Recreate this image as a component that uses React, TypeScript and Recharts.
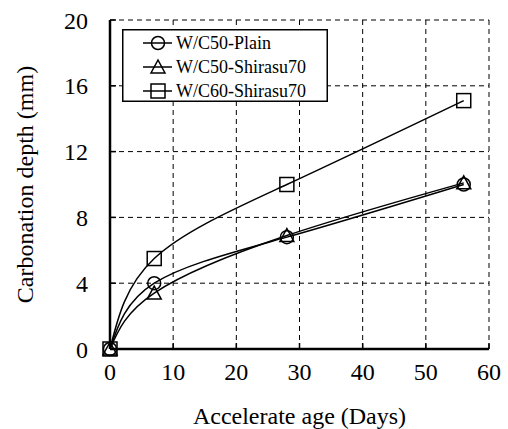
import {
  LineChart,
  Line,
  XAxis,
  YAxis,
  CartesianGrid,
  Legend,
} from "recharts";

const ages = [0, 7, 28, 56];
const plainW50 = [0, 4.0, 6.8, 10.0];
const shirasuW50 = [0, 3.4, 6.9, 10.1];
const shirasuW60 = [0, 5.5, 10.0, 15.1];

const xTicks = [0, 10, 20, 30, 40, 50, 60];
const yTicks = [0, 4, 8, 12, 16, 20];

const seriesNames = ["W/C50-Plain", "W/C50-Shirasu70", "W/C60-Shirasu70"];

const data = ages.map((age, i) => ({
  age,
  plain50: plainW50[i],
  shirasu50: shirasuW50[i],
  shirasu60: shirasuW60[i],
}));

const FONT = "Liberation Serif";

type MarkerKind = "circle" | "triangle" | "square";

function Marker({ kind, cx, cy }: { kind: MarkerKind; cx: number; cy: number }) {
  const common = { fill: "none", stroke: "#000", strokeWidth: 1.5 };
  if (kind === "circle") return <circle cx={cx} cy={cy} r={6.5} {...common} />;
  if (kind === "triangle")
    return (
      <polygon
        points={`${cx},${cy - 7} ${cx - 7},${cy + 6} ${cx + 7},${cy + 6}`}
        {...common}
      />
    );
  return <rect x={cx - 7} y={cy - 7} width={14} height={14} {...common} />;
}

const dotFor = (kind: MarkerKind) => (props: any) => {
  const { cx, cy, index } = props;
  if (cx == null || cy == null) return <g key={index} />;
  return <Marker key={index} kind={kind} cx={cx} cy={cy} />;
};

const kinds: MarkerKind[] = ["circle", "triangle", "square"];

function LegendBox() {
  return (
    <svg width={206} height={73} style={{ display: "block" }}>
      <rect x={0.75} y={0.75} width={204.5} height={71.5} fill="#fff" stroke="#000" strokeWidth={1.5} />
      {seriesNames.map((name, i) => {
        const y = 14 + i * 24;
        return (
          <g key={name}>
            <line x1={21} x2={50} y1={y} y2={y} stroke="#000" strokeWidth={1.5} />
            <Marker kind={kinds[i]} cx={36} cy={y} />
            <text
              x={54}
              y={y}
              dominantBaseline="central"
              style={{ fontFamily: FONT }}
              fontSize={18}
              fill="#000"
            >
              {name}
            </text>
          </g>
        );
      })}
    </svg>
  );
}

const tickStyle = { fill: "#000", fontSize: 24, style: { fontFamily: FONT } };

export default function App() {
  return (
    <div
      style={{
        position: "absolute",
        left: 0,
        top: 0,
        background: "#fff",
        fontFamily: FONT,
      }}
    >
      <LineChart
        width={508}
        height={429}
        data={data}
        margin={{ top: 20, right: 19, bottom: 0, left: 0 }}
        style={{ fontFamily: FONT }}
      >
        <CartesianGrid stroke="#000" strokeDasharray="5 4" strokeWidth={1} />
        <XAxis
          dataKey="age"
          type="number"
          domain={[0, 60]}
          ticks={xTicks}
          height={80}
          tickSize={-6}
          tickMargin={20}
          axisLine={{ stroke: "#000", strokeWidth: 2.5 }}
          tickLine={{ stroke: "#000", strokeWidth: 1.5 }}
          tick={tickStyle}
          label={{
            value: "Accelerate age (Days)",
            position: "insideBottom",
            offset: 5,
            fill: "#000",
            fontSize: 24,
          }}
        />
        <XAxis
          xAxisId="top"
          orientation="top"
          dataKey="age"
          type="number"
          domain={[0, 60]}
          ticks={xTicks}
          height={0}
          tickSize={-6}
          tick={false}
          axisLine={{ stroke: "#000", strokeWidth: 2.5 }}
          tickLine={{ stroke: "#000", strokeWidth: 1.5 }}
        />
        <YAxis
          type="number"
          domain={[0, 20]}
          ticks={yTicks}
          width={110}
          tickSize={-6}
          tickMargin={28}
          axisLine={{ stroke: "#000", strokeWidth: 2.5 }}
          tickLine={{ stroke: "#000", strokeWidth: 1.5 }}
          tick={tickStyle}
          label={{
            value: "Carbonation depth (mm)",
            angle: -90,
            position: "center",
            dx: -31,
            fill: "#000",
            fontSize: 24,
          }}
        />
        <YAxis
          yAxisId="right"
          orientation="right"
          type="number"
          domain={[0, 20]}
          ticks={yTicks}
          width={0}
          tickSize={-6}
          tick={false}
          axisLine={{ stroke: "#000", strokeWidth: 2.5 }}
          tickLine={{ stroke: "#000", strokeWidth: 1.5 }}
        />
        <Legend
          layout="vertical"
          align="center"
          verticalAlign="middle"
          content={() => <LegendBox />}
          wrapperStyle={{ position: "absolute", left: 122, top: 29, width: 206, height: 73 }}
        />
        <Line
          type="natural"
          dataKey="plain50"
          name={seriesNames[0]}
          stroke="#000"
          strokeWidth={1.5}
          dot={dotFor("circle")}
          activeDot={false}
          isAnimationActive={false}
        />
        <Line
          type="natural"
          dataKey="shirasu50"
          name={seriesNames[1]}
          stroke="#000"
          strokeWidth={1.5}
          dot={dotFor("triangle")}
          activeDot={false}
          isAnimationActive={false}
        />
        <Line
          type="natural"
          dataKey="shirasu60"
          name={seriesNames[2]}
          stroke="#000"
          strokeWidth={1.5}
          dot={dotFor("square")}
          activeDot={false}
          isAnimationActive={false}
        />
      </LineChart>
    </div>
  );
}
